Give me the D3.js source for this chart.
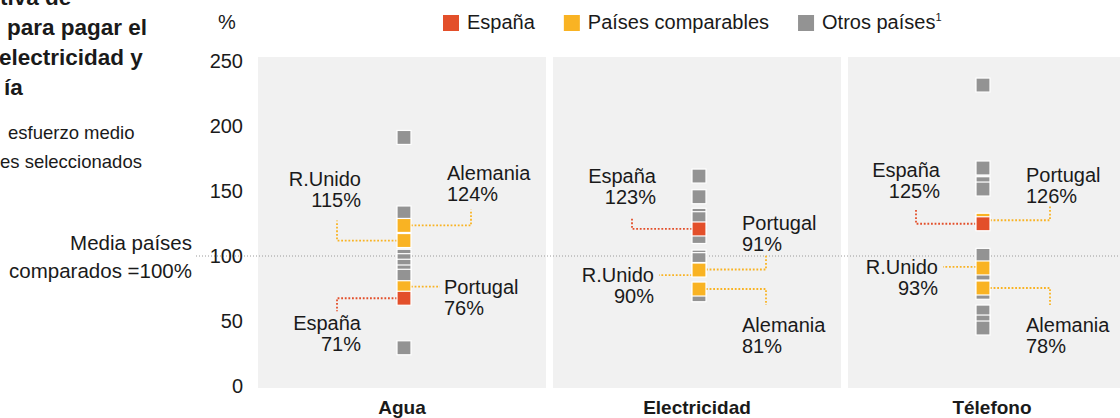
<!DOCTYPE html>
<html>
<head>
<meta charset="utf-8">
<script src="https://d3js.org/d3.v7.min.js"></script>
<style>
    body { margin: 0; background: #fff; }
    svg text { font-family: "Liberation Sans", Arial, Helvetica, sans-serif; fill: #1a1a1a; }
</style>
</head>
<body>
<script>

    // categories and ticks
    var categories = ['Agua', 'Electricidad', 'Télefono'];
    var yTicks = [0, 50, 100, 150, 200, 250];
    var legendItems = ['España', 'Países comparables', 'Otros países'];

    // otros paises (% of media paises comparados)
    var otrosAgua = [191.2, 133.1, 99.8, 96.4, 92.1, 87.7, 84.4, 29.4];
    var otrosElectricidad = [161.5, 145.6, 131.3, 128.7, 115, 99.2, 97.2, 70.2];
    var otrosTelefono = [231.5, 167.7, 155.6, 151.5, 100.5, 86.9, 72.1, 56.9, 49.2, 44.6];

    // highlighted countries: where the square sits, and its printed label
    var paisesAgua = ['Alemania', 'R.Unido', 'Portugal', 'España'];
    var valoresAgua = [123.5, 111.9, 75.6, 67.5];
    var etiquetasAgua = ['124%', '115%', '76%', '71%'];

    var paisesElectricidad = ['Portugal', 'R.Unido', 'Alemania', 'España'];
    var valoresElectricidad = [89.6, 89.2, 74.6, 120.8];
    var etiquetasElectricidad = ['91%', '90%', '81%', '123%'];

    var paisesTelefono = ['Portugal', 'R.Unido', 'Alemania', 'España'];
    var valoresTelefono = [127.5, 90.8, 75.4, 124.8];
    var etiquetasTelefono = ['126%', '93%', '78%', '125%'];

    var colors = { esp: '#e34f2a', comp: '#f9b323', otros: '#939393' };

    // label placement: side, direction of the leader, leader length, label offset
    var notes = [
        { 'Alemania': ['r', 'up', 16, -45], 'R.Unido': ['l', 'up', 20, -55], 'Portugal': ['r', 'flat', 0, 6], 'España': ['l', 'down', 13, 32] },
        { 'Portugal': ['r', 'up', 15, -40], 'R.Unido': ['l', 'flat', 0, 12], 'Alemania': ['r', 'down', 16, 43], 'España': ['l', 'up', 12, -46] },
        { 'Portugal': ['r', 'up', 14, -38], 'R.Unido': ['l', 'flat', 0, 6], 'Alemania': ['r', 'down', 17, 44], 'España': ['l', 'up', 15, -47] }
    ];
    var stripNudge = [2, 2, -9];
    var fs = '20px';

    var groups = [
        { otros: otrosAgua, paises: paisesAgua, valores: valoresAgua, etiquetas: etiquetasAgua },
        { otros: otrosElectricidad, paises: paisesElectricidad, valores: valoresElectricidad, etiquetas: etiquetasElectricidad },
        { otros: otrosTelefono, paises: paisesTelefono, valores: valoresTelefono, etiquetas: etiquetasTelefono }
    ];

    var width = 1120, height = 418;
    var svg = d3.select('body').append('svg')
        .attr('width', width)
        .attr('height', height);

    var x = d3.scaleBand()
        .domain(categories)
        .range([258, 1136])
        .paddingInner(7 / 295)
        .paddingOuter(0);
    var y = d3.scaleLinear()
        .domain([0, 250])
        .range([386, 61]);

    // panels
    svg.selectAll('rect.panel')
        .data(categories)
        .enter()
        .append('rect')
        .attr('class', 'panel')
        .attr('x', d => x(d))
        .attr('y', y(250) - 4)
        .attr('width', x.bandwidth())
        .attr('height', y(0) - y(250) + 6)
        .attr('fill', '#f1f1f1');

    // reference line at 100
    svg.append('line')
        .attr('x1', 196).attr('x2', width)
        .attr('y1', y(100)).attr('y2', y(100))
        .attr('stroke', '#9a9a9a')
        .attr('stroke-width', 1)
        .attr('stroke-dasharray', '1,2');

    // axes
    var yAxis = d3.axisLeft(y).tickValues(yTicks).tickSize(0).tickPadding(15);
    var gy = svg.append('g')
        .attr('transform', 'translate(258,0)')
        .call(yAxis);
    gy.select('.domain').remove();
    gy.selectAll('text')
        .style('font-size', fs)
        .style('font-family', '"Liberation Sans", Arial, sans-serif')
        .attr('fill', '#1a1a1a');

    var xAxis = d3.axisBottom(x).tickSize(0).tickPadding(13);
    var gx = svg.append('g')
        .attr('transform', 'translate(0,388)')
        .call(xAxis);
    gx.select('.domain').remove();
    gx.selectAll('text')
        .style('font-size', '19px')
        .style('font-weight', 'bold')
        .style('font-family', '"Liberation Sans", Arial, sans-serif')
        .attr('fill', '#1a1a1a');

    svg.append('text')
        .attr('x', 218).attr('y', 29)
        .style('font-size', fs)
        .text('%');

    // strips
    var sq = 14;
    groups.forEach(function (g, i) {
        var cx = x(categories[i]) + x.bandwidth() / 2 + stripNudge[i];
        var layer = svg.append('g');

        var otros = g.otros.slice().sort((a, b) => b - a);
        layer.selectAll('rect.otros')
            .data(otros)
            .enter()
            .append('rect')
            .attr('class', 'otros')
            .attr('x', cx - sq / 2)
            .attr('y', d => y(d) - sq / 2)
            .attr('width', sq)
            .attr('height', sq)
            .attr('fill', colors.otros)
            .attr('stroke', '#fff')
            .attr('stroke-width', 1.2);

        var hl = g.paises.map(function (p, j) {
            return { pais: p, v: g.valores[j], label: g.etiquetas[j], esp: p === 'España' };
        });
        hl.sort(function (a, b) {
            if (a.esp !== b.esp) return a.esp ? 1 : -1;
            return b.v - a.v;
        });

        // leader lines + labels
        hl.forEach(function (d) {
            var n = notes[i][d.pais];
            var side = n[0], dir = n[1], len = n[2], ty = n[3];
            var sy = y(d.v);
            var col = d.esp ? colors.esp : colors.comp;
            var sgn = side === 'l' ? -1 : 1;
            var x0 = cx + sgn * sq / 2;
            var tx = cx + sgn * 43;
            var pts;
            if (dir === 'flat') {
                var ly = sy + ty - 7;
                if (side === 'l') {
                    tx = cx - 45;
                    pts = [[x0, ly], [tx + 5, ly]];
                } else {
                    tx = cx + 40;
                    pts = [[x0, ly], [tx - 4, ly]];
                }
            } else {
                var xe = cx + sgn * 67;
                var ye = dir === 'up' ? sy - len : sy + len;
                pts = [[x0, sy], [xe, sy], [xe, ye]];
            }
            layer.append('path')
                .attr('d', d3.line()(pts))
                .attr('fill', 'none')
                .attr('stroke', col)
                .attr('stroke-width', 1.8)
                .attr('stroke-dasharray', '1.8,1.8');

            var t = layer.append('text')
                .attr('text-anchor', side === 'l' ? 'end' : 'start')
                .style('font-size', fs);
            t.append('tspan').attr('x', tx).attr('y', sy + ty).text(d.pais);
            t.append('tspan').attr('x', tx).attr('y', sy + ty + 21).text(d.label);
        });

        layer.selectAll('rect.hl')
            .data(hl)
            .enter()
            .append('rect')
            .attr('class', 'hl')
            .attr('x', cx - sq / 2)
            .attr('y', d => y(d.v) - sq / 2)
            .attr('width', sq)
            .attr('height', sq)
            .attr('fill', d => d.esp ? colors.esp : colors.comp)
            .attr('stroke', '#fff')
            .attr('stroke-width', 1.2);
    });

    // legend
    var legendColors = [colors.esp, colors.comp, colors.otros];
    var lx = 443;
    legendItems.forEach(function (name, i) {
        svg.append('rect')
            .attr('x', lx).attr('y', 15)
            .attr('width', 16).attr('height', 16)
            .attr('fill', legendColors[i]);
        var t = svg.append('text')
            .attr('x', lx + 24).attr('y', 29)
            .style('font-size', fs)
            .text(name);
        if (i === 2) {
            t.append('tspan').attr('dy', -8).style('font-size', '11px').text('1');
        }
        lx += 24 + t.node().getComputedTextLength() + 29;
    });

    // left side text (cropped in the original)
    var title = [['tiva de', 0, 5], ['para pagar el', 7, 35], ['electricidad y', -1, 65], ['ía', 4, 95]];
    title.forEach(function (d) {
        svg.append('text')
            .attr('x', d[1]).attr('y', d[2])
            .style('font-size', '22.5px')
            .style('font-weight', 'bold')
            .text(d[0]);
    });
    var sub = [['esfuerzo medio', 8, 139], ['es seleccionados', 0, 168]];
    sub.forEach(function (d) {
        svg.append('text')
            .attr('x', d[1]).attr('y', d[2])
            .style('font-size', '18.5px')
            .text(d[0]);
    });
    var media = [['Media países', 250], ['comparados =100%', 278]];
    media.forEach(function (d) {
        svg.append('text')
            .attr('x', 192).attr('y', d[1])
            .attr('text-anchor', 'end')
            .style('font-size', '20.5px')
            .text(d[0]);
    });

</script>
</body>
</html>
